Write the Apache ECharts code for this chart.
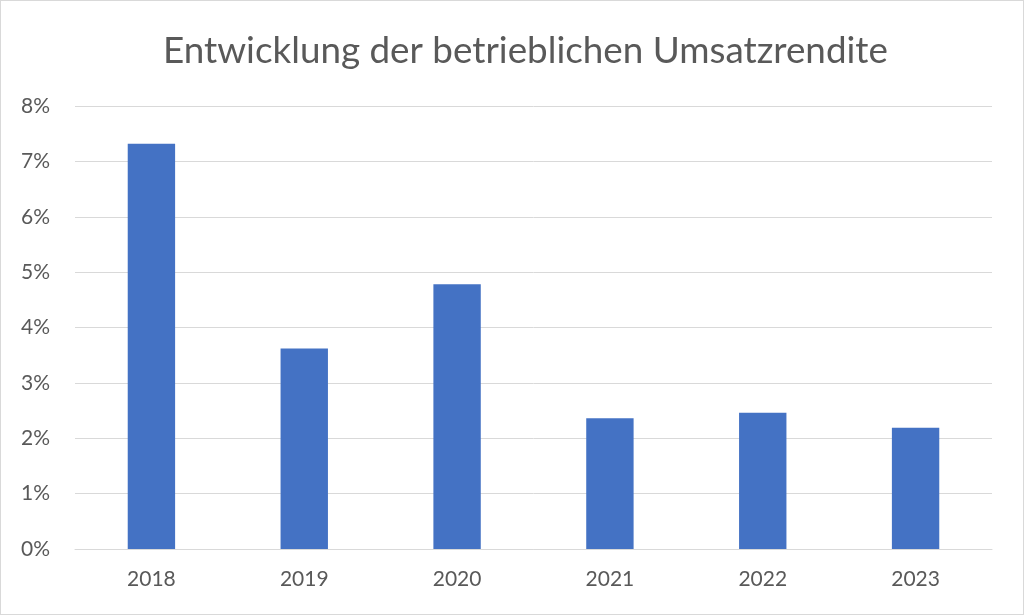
<!DOCTYPE html>
<html><head><meta charset="utf-8">
<script src="https://cdn.jsdelivr.net/npm/echarts@6/dist/echarts.min.js"></script>
<style>html,body{margin:0;padding:0;background:#fff}#c{position:absolute;left:0;top:0;width:1022px;height:613px;border:1px solid #d9d9d9}</style>
</head><body><div id="c"></div>
<script>
const categories = ['2018','2019','2020','2021','2022','2023'];
const values = [7.32, 3.62, 4.78, 2.36, 2.46, 2.19];
const yTicks = [0,1,2,3,4,5,6,7,8];
const title = 'Entwicklung der betrieblichen Umsatzrendite';
const chart = echarts.init(document.getElementById('c'));
chart.setOption({
  animation:false,
  title:{text:title,left:157,top:27,textStyle:{fontFamily:'Lato',fontWeight:'normal',fontSize:36.8,color:'#595959'}},
  grid:{left:74,right:31,top:105,bottom:65},
  xAxis:{type:'category',data:categories,axisTick:{show:false},axisLine:{lineStyle:{color:'#d9d9d9',width:1}},
    axisLabel:{fontFamily:'Lato',fontSize:21,color:'#595959',margin:20}},
  yAxis:{type:'value',min:0,max:8,interval:1,axisLabel:{fontFamily:'Lato',fontSize:21,color:'#595959',margin:25,formatter:v=>v+'%'},
    splitLine:{lineStyle:{color:'#d9d9d9',width:1}},axisLine:{show:false},axisTick:{show:false}},
  series:[{type:'bar',data:values,barWidth:'31%',itemStyle:{color:'#4472c4'}}]
});
</script></body></html>
